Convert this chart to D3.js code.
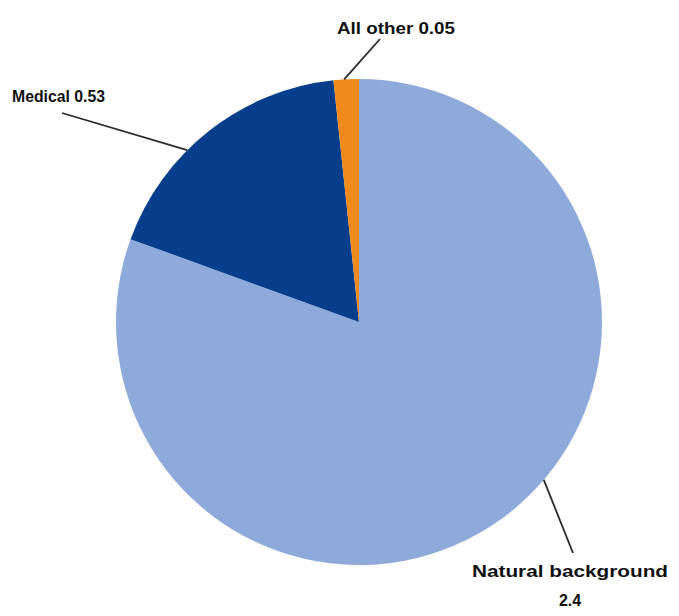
<!DOCTYPE html>
<html>
<head>
<meta charset="utf-8">
<script src="https://cdn.jsdelivr.net/npm/d3@7"></script>
<style>
	body { margin: 0; background: #ffffff; }
	svg text { font-family: "Liberation Sans", Arial, sans-serif; font-weight: bold; font-size: 16px; fill: #111; }
</style>
</head>
<body>
<svg id="chart" width="679" height="616"></svg>
<script>
'use strict';

// chart values
var categories = ['Natural background', 'Medical', 'All other'];
var values = [2.4, 0.53, 0.05];
var valueLabels = ['2.4', '0.53', '0.05'];
var colors = ['#8eaadb', '#063e8b', '#f08a1c'];

var svg = d3.select('#chart');

var nCx = 359;
var nCy = 322;
var nRadius = 243;

var g = svg.append('g').attr('transform', 'translate(' + nCx + ',' + nCy + ')');

var pie = d3.pie().sort(null).value(function(d) { return d; });
var arcs = pie(values);

var arc = d3.arc().innerRadius(0).outerRadius(nRadius);

g.selectAll('path')
	.data(arcs)
	.enter()
	.append('path')
	.attr('d', arc)
	.attr('fill', function(d, i) { return colors[i]; });

// label layout: angle (deg) where the leader touches the pie, leader end, text position, text width
var labelLayout = [
	{ angle: 130.5, end: [214, 231], text: [211, 255], anchor: 'middle', twoLines: true, width: 196 },
	{ angle: 315,   end: [-297, -209], text: [-347, -220], anchor: 'start', twoLines: false, width: 93 },
	{ angle: 356.5, end: [21, -283], text: [37, -288], anchor: 'middle', twoLines: false, width: 118 }
];

function edgePoint(nDeg)
{
	var a = nDeg * Math.PI / 180;
	return [nRadius * Math.sin(a), -nRadius * Math.cos(a)];
}

labelLayout.forEach(function(lay, i) {
	var p = edgePoint(lay.angle);
	g.append('line')
		.attr('x1', p[0]).attr('y1', p[1])
		.attr('x2', lay.end[0]).attr('y2', lay.end[1])
		.attr('stroke', '#2a2a2a')
		.attr('stroke-width', 1.8);

	var t = g.append('text')
		.attr('x', lay.text[0])
		.attr('y', lay.text[1])
		.attr('text-anchor', lay.anchor);
	if (lay.twoLines)
	{
		t.append('tspan').attr('x', lay.text[0])
			.attr('textLength', lay.width).attr('lengthAdjust', 'spacingAndGlyphs')
			.text(categories[i]);
		t.append('tspan').attr('x', lay.text[0]).attr('dy', 29).text(valueLabels[i]);
	}
	else
	{
		t.attr('textLength', lay.width).attr('lengthAdjust', 'spacingAndGlyphs')
			.text(categories[i] + ' ' + valueLabels[i]);
	}
});
</script>
</body>
</html>
